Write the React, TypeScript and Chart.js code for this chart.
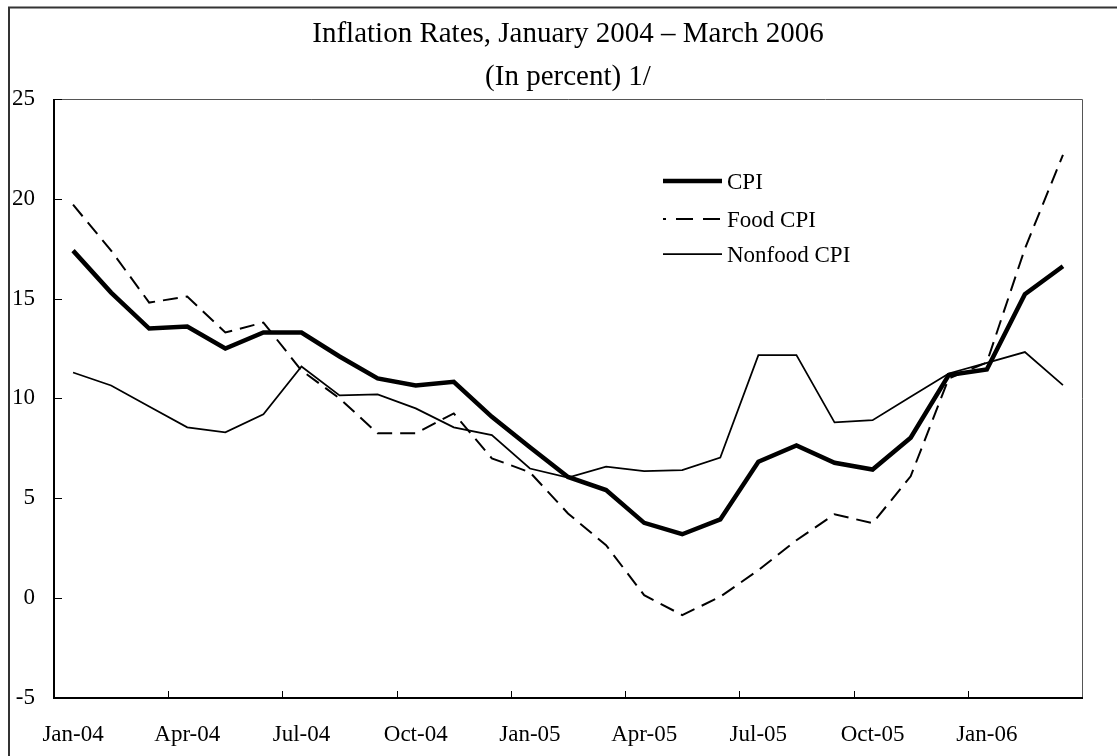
import React, { useEffect, useRef } from 'react';
import { Chart, registerables } from 'chart.js';

Chart.register(...registerables);

const months = [
  'Jan-04', 'Feb-04', 'Mar-04', 'Apr-04', 'May-04', 'Jun-04', 'Jul-04', 'Aug-04', 'Sep-04',
  'Oct-04', 'Nov-04', 'Dec-04', 'Jan-05', 'Feb-05', 'Mar-05', 'Apr-05', 'May-05', 'Jun-05',
  'Jul-05', 'Aug-05', 'Sep-05', 'Oct-05', 'Nov-05', 'Dec-05', 'Jan-06', 'Feb-06', 'Mar-06',
];

const cpi = [
  17.4, 15.3, 13.5, 13.6, 12.5, 13.3, 13.3, 12.1, 11.0, 10.65, 10.83, 9.08, 7.55, 6.07,
  5.41, 3.77, 3.2, 3.94, 6.83, 7.64, 6.78, 6.44, 8.03, 11.17, 11.45, 15.22, 16.62,
];

const foodCpi = [
  19.7, 17.4, 14.8, 15.1, 13.3, 13.8, 11.4, 10.0, 8.25, 8.25, 9.25, 7.0, 6.3, 4.24,
  2.65, 0.15, -0.85, 0.07, 1.4, 2.9, 4.2, 3.75, 6.1, 11.0, 11.8, 17.5, 22.2,
];

const nonfoodCpi = [
  11.3, 10.65, 9.6, 8.55, 8.3, 9.2, 11.6, 10.15, 10.2, 9.5, 8.55, 8.16, 6.49, 6.04,
  6.58, 6.36, 6.41, 7.04, 12.17, 12.17, 8.8, 8.91, 10.08, 11.25, 11.78, 12.32, 10.67,
];

const seriesNames = ['CPI', 'Food CPI', 'Nonfood CPI'];
const yTickValues = [-5, 0, 5, 10, 15, 20, 25];
const titleLines = ['Inflation Rates, January 2004 \u2013 March 2006', '(In percent) 1/'];

const FONT = "'Liberation Serif', 'Times New Roman', serif";

const decorPlugin = {
  id: 'decor',
  afterDraw(chart: any) {
    const { ctx, chartArea } = chart;
    const { left, right, top, bottom } = chartArea;
    const xs = chart.scales.x;
    const ys = chart.scales.y;
    ctx.save();

    // outer frame
    ctx.strokeStyle = '#333';
    ctx.lineWidth = 2;
    ctx.beginPath();
    ctx.moveTo(9, chart.height);
    ctx.lineTo(9, 7.5);
    ctx.lineTo(chart.width, 7.5);
    ctx.stroke();

    // plot frame: top/right thin
    ctx.strokeStyle = '#555';
    ctx.lineWidth = 1;
    ctx.beginPath();
    ctx.moveTo(left, Math.round(top) + 0.5);
    ctx.lineTo(Math.round(right) + 0.5, Math.round(top) + 0.5);
    ctx.lineTo(Math.round(right) + 0.5, bottom);
    ctx.stroke();

    // left / bottom axes
    ctx.strokeStyle = '#000';
    ctx.lineWidth = 2;
    ctx.beginPath();
    ctx.moveTo(Math.round(left), Math.round(top));
    ctx.lineTo(Math.round(left), Math.round(bottom));
    ctx.lineTo(Math.round(right) + 1, Math.round(bottom));
    ctx.stroke();

    // y tick marks (inside)
    ctx.lineWidth = 1;
    ctx.beginPath();
    yTickValues.forEach((v) => {
      const y = Math.round(ys.getPixelForValue(v)) + 0.5;
      ctx.moveTo(left, y);
      ctx.lineTo(left + 8, y);
    });
    // x tick marks at category boundaries every 3 months
    for (let k = 3; k < months.length; k += 3) {
      const x = Math.round((xs.getPixelForValue(k - 1) + xs.getPixelForValue(k)) / 2) + 0.5;
      ctx.moveTo(x, bottom);
      ctx.lineTo(x, bottom - 7);
    }
    ctx.stroke();

    // legend
    const legendRows = [181, 219, 254];
    const lineStart = 663;
    const lineEnd = 722;
    ctx.font = `23px ${FONT}`;
    ctx.textBaseline = 'middle';
    ctx.textAlign = 'left';
    chart.data.datasets.forEach((ds: any, i: number) => {
      const y = legendRows[i];
      ctx.save();
      ctx.strokeStyle = ds.borderColor;
      ctx.lineWidth = ds.borderWidth;
      ctx.setLineDash(ds.borderDash ? [17, 10] : []);
      ctx.beginPath();
      ctx.moveTo(ds.borderDash ? lineEnd - 2 : lineEnd, y);
      ctx.lineTo(lineStart, y);
      ctx.stroke();
      ctx.restore();
      ctx.fillStyle = '#000';
      ctx.fillText(ds.label, lineEnd + 5, y + 2);
    });

    ctx.restore();
  },
};

export default function App() {
  const ref = useRef<HTMLCanvasElement | null>(null);

  useEffect(() => {
    if (!ref.current) return;
    const chart = new Chart(ref.current, {
      type: 'line',
      data: {
        labels: months,
        datasets: [
          {
            label: seriesNames[0],
            data: cpi,
            borderColor: '#000',
            borderWidth: 4.5,
            pointRadius: 0,
            tension: 0,
            fill: false,
          },
          {
            label: seriesNames[1],
            data: foodCpi,
            borderColor: '#000',
            borderWidth: 2,
            borderDash: [15, 8],
            pointRadius: 0,
            tension: 0,
            fill: false,
          },
          {
            label: seriesNames[2],
            data: nonfoodCpi,
            borderColor: '#000',
            borderWidth: 1.75,
            pointRadius: 0,
            tension: 0,
            fill: false,
          },
        ],
      },
      options: {
        responsive: false,
        animation: false,
        layout: { padding: { left: 0, right: 35, top: 0, bottom: 0 } },
        plugins: {
          legend: { display: false },
          tooltip: { enabled: false },
          title: {
            display: true,
            fullSize: false,
            text: titleLines,
            color: '#000',
            font: { family: FONT, size: 29, weight: 'normal', lineHeight: 1.48 },
            padding: { top: 13, bottom: 0 },
          },
        },
        scales: {
          x: {
            type: 'category',
            offset: true,
            grid: { display: false, drawTicks: false },
            border: { display: false },
            ticks: {
              autoSkip: false,
              maxRotation: 0,
              minRotation: 0,
              padding: 23,
              color: '#000',
              font: { family: FONT, size: 23 },
              callback: (_v: any, i: number) => (i % 3 === 0 ? months[i] : ''),
            },
            afterFit: (s: any) => {
              s.height = 58;
            },
          },
          y: {
            min: -5,
            max: 25,
            grid: { display: false, drawTicks: false },
            border: { display: false },
            ticks: {
              stepSize: 5,
              padding: 19,
              color: '#000',
              font: { family: FONT, size: 23 },
            },
            afterFit: (s: any) => {
              s.width = 54;
            },
          },
        },
      },
      plugins: [decorPlugin],
    } as any);
    return () => chart.destroy();
  }, []);

  return (
    <canvas
      ref={ref}
      width={1117}
      height={756}
      style={{ position: 'fixed', left: 0, top: 0, width: 1117, height: 756 }}
    />
  );
}
